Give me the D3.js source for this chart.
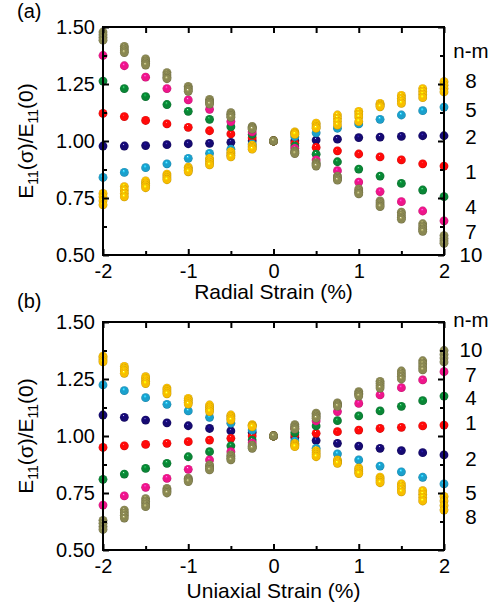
<!DOCTYPE html>
<meta charset="utf-8">
<style>
  body { margin: 0; background: #fff; }
  svg text { font-family: "Liberation Sans", Arial, sans-serif; fill: #000; }
  .axis path { display: none; }
  .axis line { stroke: #000; stroke-width: 2px; }
  .frame { fill: none; stroke: #000; stroke-width: 2px; }
</style>
<svg width="498" height="607"></svg>
<script src="https://cdn.jsdelivr.net/npm/d3@7/dist/d3.min.js"></script>
<script>

  // strain values (%) shared by both panels
  var strain = [-2, -1.75, -1.5, -1.25, -1, -0.75, -0.5, -0.25, 0, 0.25, 0.5, 0.75, 1, 1.25, 1.5, 1.75, 2];
  var strainTicks = [-2, -1, 0, 1, 2];
  var strainMinor = [-1.5, -0.5, 0.5, 1.5];
  var yTicks = [0.5, 0.75, 1, 1.25, 1.5];
  var yMinor = [0.625, 0.875, 1.125, 1.375];

  // (a) radial strain, one array per tube; families 8 and 10 hold several tubes
  var radial2 = [0.978, 0.978, 0.980, 0.984, 0.988, 0.990, 0.994, 1.001, 1.0, 1.001, 1.004, 1.008, 1.015, 1.017, 1.020, 1.023, 1.023];
  var radial1 = [1.121, 1.107, 1.090, 1.075, 1.060, 1.045, 1.031, 1.014, 1.0, 0.990, 0.972, 0.957, 0.943, 0.930, 0.917, 0.900, 0.890];
  var radial5 = [0.840, 0.862, 0.883, 0.900, 0.924, 0.946, 0.964, 0.987, 1.0, 1.019, 1.036, 1.056, 1.075, 1.095, 1.114, 1.133, 1.149];
  var radial4 = [1.263, 1.230, 1.195, 1.160, 1.130, 1.095, 1.063, 1.029, 1.0, 0.978, 0.942, 0.909, 0.877, 0.846, 0.814, 0.785, 0.756];
  var radial7 = [1.375, 1.330, 1.280, 1.230, 1.180, 1.139, 1.085, 1.040, 1.0, 0.968, 0.917, 0.870, 0.820, 0.778, 0.734, 0.693, 0.650];
  var radial8a = [0.770, 0.800, 0.825, 0.855, 0.885, 0.924, 0.953, 0.982, 1.0, 1.040, 1.078, 1.114, 1.130, 1.165, 1.200, 1.230, 1.260];
  var radial8b = [0.755, 0.785, 0.815, 0.847, 0.878, 0.915, 0.945, 0.976, 1.0, 1.036, 1.070, 1.100, 1.118, 1.160, 1.188, 1.217, 1.245];
  var radial8c = [0.738, 0.770, 0.805, 0.838, 0.872, 0.905, 0.937, 0.970, 1.0, 1.032, 1.062, 1.085, 1.105, 1.155, 1.176, 1.204, 1.230];
  var radial8d = [0.720, 0.755, 0.795, 0.830, 0.865, 0.895, 0.930, 0.964, 1.0, 1.029, 1.056, 1.070, 1.085, 1.150, 1.165, 1.190, 1.215];
  var radial10a = [1.478, 1.415, 1.360, 1.300, 1.240, 1.183, 1.124, 1.064, 1.0, 0.957, 0.905, 0.846, 0.790, 0.737, 0.688, 0.637, 0.585];
  var radial10b = [1.466, 1.405, 1.350, 1.290, 1.232, 1.175, 1.117, 1.060, 1.0, 0.953, 0.900, 0.840, 0.781, 0.728, 0.677, 0.624, 0.572];
  var radial10c = [1.454, 1.395, 1.340, 1.280, 1.225, 1.168, 1.110, 1.056, 1.0, 0.949, 0.895, 0.834, 0.774, 0.719, 0.666, 0.613, 0.561];
  var radial10d = [1.442, 1.388, 1.333, 1.273, 1.218, 1.162, 1.104, 1.052, 1.0, 0.945, 0.890, 0.828, 0.768, 0.712, 0.657, 0.604, 0.551];

  // (b) uniaxial strain
  var uniax2 = [1.092, 1.082, 1.070, 1.058, 1.045, 1.033, 1.022, 1.015, 1.0, 0.993, 0.980, 0.968, 0.956, 0.946, 0.936, 0.927, 0.917];
  var uniax1 = [0.950, 0.957, 0.963, 0.968, 0.975, 0.982, 0.990, 1.000, 1.0, 1.004, 1.012, 1.019, 1.026, 1.033, 1.038, 1.044, 1.048];
  var uniax5 = [1.224, 1.199, 1.168, 1.139, 1.110, 1.082, 1.056, 1.026, 1.0, 0.978, 0.946, 0.922, 0.895, 0.868, 0.843, 0.819, 0.790];
  var uniax4 = [0.810, 0.833, 0.858, 0.880, 0.909, 0.931, 0.957, 0.982, 1.0, 1.015, 1.044, 1.067, 1.088, 1.110, 1.130, 1.155, 1.175];
  var uniax7 = [0.697, 0.737, 0.775, 0.814, 0.854, 0.895, 0.931, 0.970, 1.0, 1.033, 1.066, 1.107, 1.143, 1.180, 1.212, 1.246, 1.282];
  var uniax8a = [1.350, 1.305, 1.260, 1.210, 1.165, 1.136, 1.092, 1.050, 1.0, 0.968, 0.936, 0.895, 0.860, 0.820, 0.790, 0.760, 0.735];
  var uniax8b = [1.342, 1.295, 1.250, 1.202, 1.157, 1.126, 1.085, 1.047, 1.0, 0.963, 0.927, 0.890, 0.852, 0.812, 0.778, 0.745, 0.715];
  var uniax8c = [1.333, 1.285, 1.240, 1.193, 1.148, 1.117, 1.077, 1.044, 1.0, 0.958, 0.918, 0.885, 0.843, 0.803, 0.767, 0.730, 0.695];
  var uniax8d = [1.325, 1.275, 1.230, 1.185, 1.140, 1.107, 1.070, 1.040, 1.0, 0.953, 0.909, 0.880, 0.835, 0.795, 0.755, 0.715, 0.675];
  var uniax10a = [0.630, 0.675, 0.725, 0.770, 0.815, 0.873, 0.917, 0.960, 1.0, 1.050, 1.100, 1.145, 1.195, 1.240, 1.285, 1.330, 1.375];
  var uniax10b = [0.617, 0.663, 0.713, 0.763, 0.810, 0.866, 0.910, 0.955, 1.0, 1.043, 1.093, 1.140, 1.188, 1.230, 1.273, 1.317, 1.358];
  var uniax10c = [0.603, 0.652, 0.702, 0.757, 0.805, 0.858, 0.902, 0.950, 1.0, 1.036, 1.085, 1.135, 1.182, 1.220, 1.262, 1.303, 1.342];
  var uniax10d = [0.590, 0.640, 0.690, 0.750, 0.800, 0.851, 0.895, 0.946, 1.0, 1.030, 1.078, 1.130, 1.175, 1.210, 1.250, 1.290, 1.325];

  // n-m family labels on the right, top to bottom
  var radialLegend = ["8", "5", "2", "1", "4", "7", "10"];
  var uniaxLegend = ["10", "7", "4", "1", "2", "5", "8"];

  var color = {
    "2": "#160a72", "1": "#ff0a0a", "5": "#1ba0cc", "4": "#0a8636",
    "7": "#ee168a", "8": "#f8be00", "10": "#8a8852"
  };

  var svg = d3.select("svg");
  var defs = svg.append("defs");

  // shaded sphere look for the markers
  Object.keys(color).forEach(function (k) {
    var c = color[k];
    var grad = defs.append("radialGradient")
          .attr("id", "ball" + k)
          .attr("cx", "50%").attr("cy", "50%").attr("r", "52%")
          .attr("fx", "42%").attr("fy", "30%");
    grad.append("stop").attr("offset", "0%").attr("stop-color", "#fff");
    grad.append("stop").attr("offset", "14%").attr("stop-color", d3.color(c).brighter(0.8));
    grad.append("stop").attr("offset", "35%").attr("stop-color", c);
    grad.append("stop").attr("offset", "80%").attr("stop-color", c);
    grad.append("stop").attr("offset", "100%").attr("stop-color", d3.color(c).darker(0.8));
  });

  function drawPanel(p) {
    var x = d3.scaleLinear().domain([-2, 2]).range([103, 444]);
    var y = d3.scaleLinear().domain([0.5, 1.5]).range([p.bottom, p.top]);
    var g = svg.append("g");

    // points, one group per tube
    p.series.forEach(function (s) {
      g.append("g").selectAll("circle")
            .data(s.values)
            .enter().append("circle")
            .attr("cx", function (d, i) { return x(strain[i]); })
            .attr("cy", function (d) { return y(d); })
            .attr("r", 4.4)
            .attr("fill", "url(#ball" + s.fam + ")");
    });

    g.append("rect").attr("class", "frame")
          .attr("x", x(-2)).attr("y", p.top)
          .attr("width", x(2) - x(-2)).attr("height", p.bottom - p.top);

    // ticks all point inward
    g.append("g").attr("class", "axis")
          .attr("transform", "translate(0," + p.bottom + ")")
          .call(d3.axisBottom(x).tickValues(strainTicks).tickSize(-6).tickSizeOuter(0)
                .tickPadding(9).tickFormat(function (d) { return String(d); }))
          .call(function (a) { a.selectAll("text").attr("font-size", 20).attr("font-family", null); });
    g.append("g").attr("class", "axis")
          .attr("transform", "translate(0," + p.bottom + ")")
          .call(d3.axisBottom(x).tickValues(strainMinor).tickSize(-4).tickSizeOuter(0).tickFormat(""));
    g.append("g").attr("class", "axis")
          .attr("transform", "translate(0," + p.top + ")")
          .call(d3.axisTop(x).tickValues(strainTicks.concat(strainMinor)).tickSize(-6).tickSizeOuter(0).tickFormat(""));

    g.append("g").attr("class", "axis")
          .attr("transform", "translate(" + x(-2) + ",0)")
          .call(d3.axisLeft(y).tickValues(yTicks).tickSize(-6).tickSizeOuter(0)
                .tickPadding(8).tickFormat(d3.format(".2f")))
          .call(function (a) { a.selectAll("text").attr("font-size", 20).attr("font-family", null); });
    g.append("g").attr("class", "axis")
          .attr("transform", "translate(" + x(-2) + ",0)")
          .call(d3.axisLeft(y).tickValues(yMinor).tickSize(-4).tickSizeOuter(0).tickFormat(""));
    g.append("g").attr("class", "axis")
          .attr("transform", "translate(" + x(2) + ",0)")
          .call(d3.axisRight(y).tickValues(yTicks).tickSize(-6).tickSizeOuter(0).tickFormat(""));
    g.append("g").attr("class", "axis")
          .attr("transform", "translate(" + x(2) + ",0)")
          .call(d3.axisRight(y).tickValues(yMinor).tickSize(-4).tickSizeOuter(0).tickFormat(""));

    // x title
    g.append("text")
          .attr("x", x(0)).attr("y", p.titleY)
          .attr("text-anchor", "middle").attr("font-size", 21)
          .text(p.xTitle);

    // y title with subscripts
    var yt = g.append("text")
          .attr("transform", "rotate(-90)")
          .attr("x", -(p.top + p.bottom) / 2).attr("y", 33)
          .attr("text-anchor", "middle").attr("font-size", 21);
    yt.append("tspan").text("E");
    yt.append("tspan").attr("font-size", 14).attr("dy", 5).text("11");
    yt.append("tspan").attr("dy", -5).text("(σ)/E");
    yt.append("tspan").attr("font-size", 14).attr("dy", 5).text("11");
    yt.append("tspan").attr("dy", -5).text("(0)");

    // panel tag
    g.append("text").attr("x", 17).attr("y", p.tagY)
          .attr("font-size", 20).text(p.tag);

    // n-m labels
    g.append("text").attr("x", 471).attr("y", p.legendTitleY)
          .attr("dy", "0.35em").attr("text-anchor", "middle").attr("font-size", 20.5)
          .text("n-m");
    g.append("g").selectAll("text")
          .data(p.legend)
          .enter().append("text")
          .attr("x", 471)
          .attr("y", function (d, i) { return p.legendY[i]; })
          .attr("dy", "0.35em")
          .attr("text-anchor", "middle").attr("font-size", 20.5)
          .text(function (d) { return d; });
  }

  function tubes(fam, arrs) {
    return arrs.map(function (v) { return { fam: fam, values: v }; });
  }

  drawPanel({
    tag: "(a)", tagY: 18, top: 27, bottom: 255, titleY: 299, xTitle: "Radial Strain (%)",
    legend: radialLegend, legendTitleY: 51,
    legendY: [81, 110, 137, 172, 207, 232, 255],
    series: [].concat(
      tubes("2", [radial2]), tubes("1", [radial1]), tubes("5", [radial5]),
      tubes("4", [radial4]), tubes("7", [radial7]),
      tubes("8", [radial8a, radial8b, radial8c, radial8d]),
      tubes("10", [radial10a, radial10b, radial10c, radial10d]))
  });

  drawPanel({
    tag: "(b)", tagY: 308, top: 322, bottom: 550, titleY: 598, xTitle: "Uniaxial Strain (%)",
    legend: uniaxLegend, legendTitleY: 320,
    legendY: [350, 375, 398, 423, 459, 493, 517],
    series: [].concat(
      tubes("2", [uniax2]), tubes("1", [uniax1]), tubes("5", [uniax5]),
      tubes("4", [uniax4]), tubes("7", [uniax7]),
      tubes("8", [uniax8a, uniax8b, uniax8c, uniax8d]),
      tubes("10", [uniax10a, uniax10b, uniax10c, uniax10d]))
  });
</script>
